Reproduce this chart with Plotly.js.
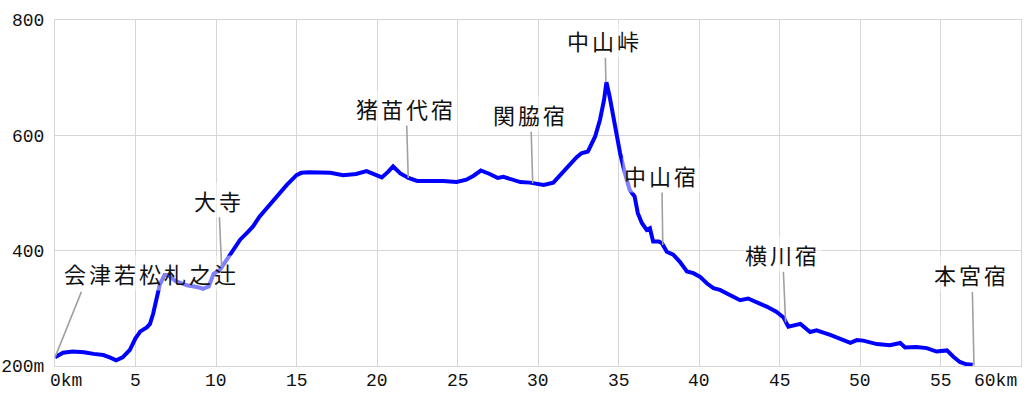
<!DOCTYPE html>
<html><head><meta charset="utf-8">
<script src="https://cdn.plot.ly/plotly-3.0.1.min.js"></script>
<style>html,body{margin:0;padding:0;background:#fff}#chart{width:1024px;height:400px}</style>
</head><body><div id="chart"></div>
<script>
const distKm = [0,0.5,1.1,1.8,2.4,3.0,3.4,3.8,4.2,4.65,5.0,5.3,5.7,5.9,6.1,6.3,6.5,6.8,7.0,7.5,8.2,8.8,9.2,9.55,9.85,10.25,10.45,10.75,11.1,11.5,12.0,12.3,12.7,13.15,13.75,14.4,15.0,15.3,15.8,17.1,17.9,18.7,19.35,19.75,20.3,20.7,21.0,21.45,21.95,22.5,23.3,24.1,24.95,25.55,26.0,26.45,27.0,27.5,27.85,28.4,28.9,29.5,30.0,30.35,30.95,31.55,32.1,32.4,32.7,33.1,33.55,33.85,34.1,34.25,34.45,34.8,35.1,35.4,35.7,36.0,36.2,36.45,36.75,36.95,37.15,37.5,37.7,38.0,38.4,38.8,39.25,39.65,40.05,40.5,40.9,41.3,41.9,42.55,43.05,43.6,44.2,44.8,45.25,45.55,46.1,46.3,46.9,47.3,48.15,48.95,49.4,49.8,50.2,51.05,51.85,52.5,52.8,53.5,54.15,54.75,55.4,55.8,56.2,56.6,57.0];
const elevM = [215,223,225,224,221,219,215,210,215,228,248,260,267,273,291,320,340,358,358,347,340,337,334,338,360,367,375,387,404,419,433,442,459,474,494,514,531,535,536,535,531,533,538,534,527,537,546,534,526,521,521,521,519,523,530,539,533,526,528,523,519,518,515,514,518,537,552,562,569,572,598,627,661,692,667,615,569,534,505,494,465,448,436,439,416,416,413,398,393,381,364,361,355,343,335,332,323,314,317,311,303,294,284,268,272,273,259,262,254,246,240,245,244,238,236,240,232,233,231,225,227,216,207,203,202];

const placeNames = ['会津若松札之辻','大寺','猪苗代宿','関脇宿','中山峠','中山宿','横川宿','本宮宿'];
const placeKm = [0,10.35,21.94,29.67,34.22,37.75,45.38,57.08];
const placeElev = [215,372,526,517,692,410,276,201];

const xTickVals = [0,5,10,15,20,25,30,35,40,45,50,55,60];
const xTickText = ['0km','5','10','15','20','25','30','35','40','45','50','55','60km'];
const yTickVals = [200,400,600,800];
const yTickText = ['200m','400','600','800'];

// label placement (pixel offsets of text centre from the point)
const labelOffsets = [[96,-84],[-3,-67],[-2,-70],[-2,-69],[-1,-42],[-1,-70],[-3,-68],[-2,-91]];

const FONT = '"Noto Sans CJK JP", "Noto Sans", sans-serif';
const TICKFONT = '"Liberation Mono", "DejaVu Sans Mono", monospace';
const GRID = '#d6d6d6';

const annotations = [];
placeNames.forEach((name, i) => {
  const [dx, dy] = labelOffsets[i];
  const base = {
    x: placeKm[i], y: placeElev[i], xref: 'x', yref: 'y',
    text: '<span style="letter-spacing:3px">' + name + '</span>',
    font: {family: FONT, size: 22, color: '#111'},
    bgcolor: 'rgba(255,255,255,0.5)', borderpad: 1
  };
  if (i === 0) {
    annotations.push(Object.assign(base, {showarrow: false, xshift: dx, yshift: -dy}));
    annotations.push({x: placeKm[i], y: placeElev[i], xref: 'x', yref: 'y', text: '',
      showarrow: true, arrowhead: 0, arrowwidth: 1.6, arrowcolor: '#a0a0a0', ax: 27, ay: -67, standoff: 0});
  } else {
    annotations.push(Object.assign(base, {showarrow: true, arrowhead: 0, arrowwidth: 1.6,
      arrowcolor: '#a0a0a0', ax: dx, ay: dy, standoff: 0}));
  }
});
xTickVals.forEach((v, i) => {
  const first = i === 0, last = i === xTickVals.length - 1;
  annotations.push({
    x: v, y: 0, xref: 'x', yref: 'paper', yanchor: 'top', yshift: -3,
    xanchor: first ? 'left' : (last ? 'right' : 'center'),
    xshift: first ? -7 : (last ? -2 : 0),
    text: xTickText[i], showarrow: false,
    font: {family: TICKFONT, size: 18, color: '#111'}
  });
});

const trace = {
  x: distKm, y: elevM, type: 'scatter', mode: 'lines',
  line: {color: '#0000ff', width: 4}, hoverinfo: 'skip'
};

const layout = {
  width: 1024, height: 400,
  margin: {l: 55, r: 3, t: 20, b: 34},
  paper_bgcolor: '#ffffff', plot_bgcolor: '#ffffff',
  showlegend: false,
  xaxis: {range: [0, 60], tickvals: xTickVals, showticklabels: false,
    showgrid: true, gridcolor: GRID, gridwidth: 1, zeroline: false,
    showline: true, linecolor: GRID, linewidth: 1, mirror: true, ticks: ''},
  yaxis: {range: [200, 800], tickvals: yTickVals, ticktext: yTickText,
    showgrid: true, gridcolor: GRID, gridwidth: 1, zeroline: false,
    showline: true, linecolor: GRID, linewidth: 1, mirror: true, ticks: '',
    ticklabelstandoff: 6,
    tickfont: {family: TICKFONT, size: 18, color: '#111'}},
  annotations: annotations
};

Plotly.newPlot('chart', [trace], layout, {staticPlot: true, displayModeBar: false});
</script></body></html>
